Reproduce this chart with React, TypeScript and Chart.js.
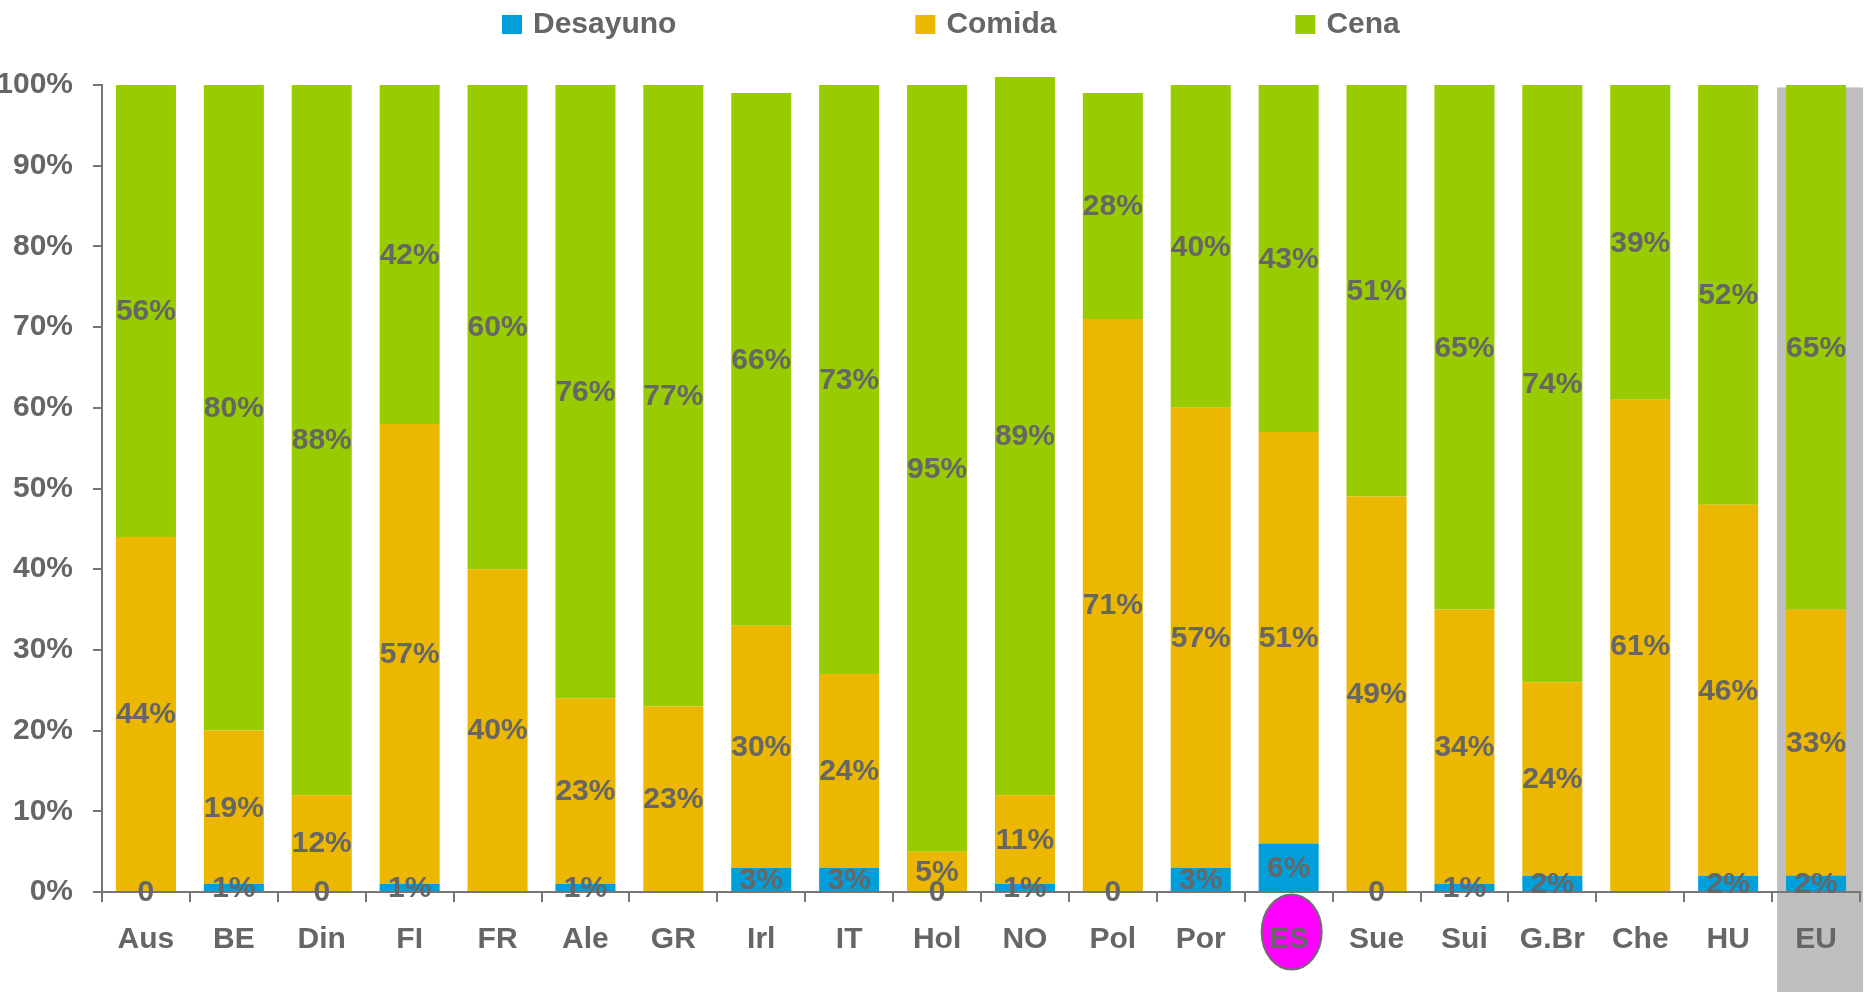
import React, { useEffect, useRef } from "react";
import { Chart, registerables } from "chart.js";

Chart.register(...registerables);

const categories = ["Aus", "BE", "Din", "FI", "FR", "Ale", "GR", "Irl", "IT", "Hol", "NO", "Pol", "Por", "ES", "Sue", "Sui", "G.Br", "Che", "HU", "EU"];
const desayuno: (number | null)[] = [0, 1, 0, 1, null, 1, null, 3, 3, 0, 1, 0, 3, 6, 0, 1, 2, null, 2, 2];
const comida: number[] = [44, 19, 12, 57, 40, 23, 23, 30, 24, 5, 11, 71, 57, 51, 49, 34, 24, 61, 46, 33];
const cena: number[] = [56, 80, 88, 42, 60, 76, 77, 66, 73, 95, 89, 28, 40, 43, 51, 65, 74, 39, 52, 65];
const seriesNames = ["Desayuno", "Comida", "Cena"];
const yTicks = [0, 10, 20, 30, 40, 50, 60, 70, 80, 90, 100];

const BLUE = "#009fda";
const ORANGE = "#ebb700";
const GREEN = "#99cc00";
const TEXT = "#666666";
const AXIS = "#767676";
const FONT_FAMILY = "'Liberation Sans', Arial, Helvetica, sans-serif";
const FONT = { family: FONT_FAMILY, size: 30, weight: "bold" as const };

const highlightPlugin = {
  id: "highlights",
  beforeDraw(chart: any) {
    const { ctx, scales } = chart;
    const x = scales.x;
    const y = scales.y;
    ctx.save();
    // gray band behind EU
    const euIdx = categories.indexOf("EU");
    const cx = x.getPixelForValue(euIdx);
    ctx.fillStyle = "#bfbfbf";
    const top = y.getPixelForValue(99.7);
    ctx.fillRect(cx - 39, top, 86, chart.height - top);
    // magenta ellipse behind ES
    const esIdx = categories.indexOf("ES");
    const ex = x.getPixelForValue(esIdx) + 3;
    const ey = y.getPixelForValue(0) + 40;
    ctx.beginPath();
    ctx.ellipse(ex, ey, 30, 37.5, 0, 0, Math.PI * 2);
    ctx.fillStyle = "#ff00ff";
    ctx.fill();
    ctx.lineWidth = 2;
    ctx.strokeStyle = "#6e6e6e";
    ctx.stroke();
    ctx.restore();
  },
};

const labelPlugin = {
  id: "segmentLabels",
  afterDatasetsDraw(chart: any) {
    const { ctx } = chart;
    ctx.save();
    ctx.font = `bold 30px ${FONT_FAMILY}`;
    ctx.fillStyle = TEXT;
    ctx.textAlign = "center";
    ctx.textBaseline = "middle";
    chart.data.datasets.forEach((ds: any, di: number) => {
      const meta = chart.getDatasetMeta(di);
      meta.data.forEach((el: any, i: number) => {
        const v = ds.data[i];
        if (v === null || v === undefined) return;
        const text = v === 0 ? "0" : `${v}%`;
        const yMid = (el.y + el.base) / 2;
        ctx.fillText(text, el.x, yMid + 1);
      });
    });
    ctx.restore();
  },
};

const legendPlugin = {
  id: "customLegend",
  afterDraw(chart: any) {
    const { ctx } = chart;
    ctx.save();
    ctx.font = `bold 30px ${FONT_FAMILY}`;
    ctx.textBaseline = "middle";
    ctx.textAlign = "left";
    let xPos = 502;
    chart.data.datasets.forEach((ds: any) => {
      ctx.fillStyle = ds.backgroundColor;
      ctx.fillRect(xPos, 15, 20, 19);
      ctx.fillStyle = TEXT;
      ctx.fillText(ds.label, xPos + 31, 25);
      const w = ctx.measureText(ds.label).width;
      xPos += 31 + w + 239;
    });
    ctx.restore();
  },
};

export default function App() {
  const canvasRef = useRef<HTMLCanvasElement | null>(null);

  useEffect(() => {
    if (!canvasRef.current) return;
    const common = { barPercentage: 0.683, categoryPercentage: 1, clip: false as const, borderWidth: 0 };
    const chart = new Chart(canvasRef.current, {
      type: "bar",
      data: {
        labels: categories,
        datasets: [
          { label: seriesNames[0], data: desayuno, backgroundColor: BLUE, ...common },
          { label: seriesNames[1], data: comida, backgroundColor: ORANGE, ...common },
          { label: seriesNames[2], data: cena, backgroundColor: GREEN, ...common },
        ],
      },
      options: {
        animation: false,
        responsive: true,
        maintainAspectRatio: false,
        layout: { padding: { top: 85, right: 11, left: 0, bottom: 0 } },
        plugins: {
          legend: { display: false },
          tooltip: { enabled: false },
        },
        scales: {
          x: {
            stacked: true,
            offset: true,
            grid: { offset: true, drawOnChartArea: false, tickLength: 10, color: AXIS, lineWidth: 2 },
            border: { color: AXIS, width: 2 },
            ticks: { font: FONT, color: TEXT, padding: 20, maxRotation: 0, autoSkip: false },
            afterFit: (scale: any) => {
              scale.height = 100;
            },
          },
          y: {
            stacked: true,
            min: 0,
            max: 100,
            afterBuildTicks: (scale: any) => {
              scale.ticks = yTicks.map((v) => ({ value: v }));
            },
            grid: { drawOnChartArea: false, tickLength: 9, color: AXIS, lineWidth: 2 },
            border: { color: AXIS, width: 2 },
            ticks: {
              font: FONT,
              color: TEXT,
              padding: 20,
              callback: (v: any) => `${v}%`,
            },
            afterFit: (scale: any) => {
              scale.width = 102;
            },
          },
        },
      },
      plugins: [highlightPlugin, labelPlugin, legendPlugin],
    });
    return () => chart.destroy();
  }, []);

  return (
    <div style={{ position: "fixed", left: 0, top: 0, width: 1871, height: 992, background: "#fff" }}>
      <canvas ref={canvasRef} />
    </div>
  );
}
